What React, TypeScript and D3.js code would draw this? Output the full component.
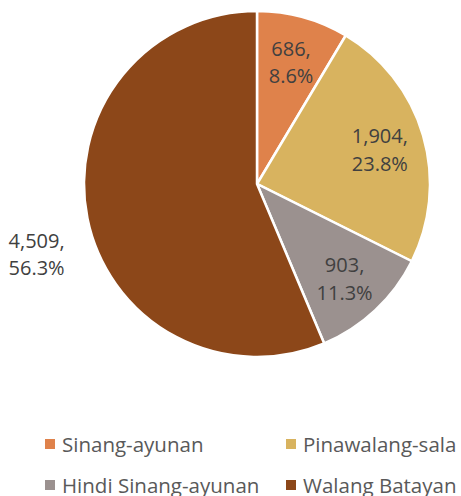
import React from "react";
import * as d3 from "d3";

const categories = ["Sinang-ayunan", "Pinawalang-sala", "Hindi Sinang-ayunan", "Walang Batayan"];
const values = [686, 1904, 903, 4509];
const percents = ["8.6%", "23.8%", "11.3%", "56.3%"];
const colors = ["#DF824B", "#D8B35F", "#9B918F", "#8C4719"];

const W = 461;
const H = 496;
const cx = 257;
const cy = 184;
const R = 173;

export default function App() {
  const pie = d3.pie<number>().sort(null).value((d) => d);
  const arcs = pie(values);
  const arc = d3.arc<d3.PieArcDatum<number>>().innerRadius(0).outerRadius(R);
  const labelArc = d3.arc<d3.PieArcDatum<number>>().innerRadius(R * 0.74).outerRadius(R * 0.74);
  const outArc = d3.arc<d3.PieArcDatum<number>>().innerRadius(R * 1.3).outerRadius(R * 1.3);
  const fmt = d3.format(",");
  const font = "'Open Sans', sans-serif";
  const legendCols = [45, 286];
  const legendRows = [444, 485];

  return (
    <svg width={W} height={H} style={{ position: "absolute", left: 0, top: 0 }}>
      <rect width={W} height={H} fill="#fff" />
      <g transform={`translate(${cx},${cy})`}>
        {arcs.map((a, i) => (
          <path key={i} d={arc(a) || ""} fill={colors[i]} stroke="#fff" strokeWidth={2.5} />
        ))}
        {arcs.map((a, i) => {
          const outside = a.endAngle - a.startAngle > Math.PI;
          const [x, y] = outside ? outArc.centroid(a) : labelArc.centroid(a);
          const yy = outside ? y + 24 : y;
          return (
            <text key={i} x={x} y={yy} textAnchor="middle" fontFamily={font} fontSize={20} fill="#404040">
              <tspan x={x} dy="-0.25em">{fmt(values[i]) + ","}</tspan>
              <tspan x={x} dy="1.38em">{percents[i]}</tspan>
            </text>
          );
        })}
      </g>
      {categories.map((c, i) => {
        const lx = legendCols[i % 2];
        const ly = legendRows[Math.floor(i / 2)];
        return (
          <g key={c}>
            <rect x={lx} y={ly - 5} width={10} height={10} fill={colors[i]} />
            <text x={lx + 17} y={ly + 8} fontFamily={font} fontSize={20.5} fill="#595959">{c}</text>
          </g>
        );
      })}
    </svg>
  );
}
